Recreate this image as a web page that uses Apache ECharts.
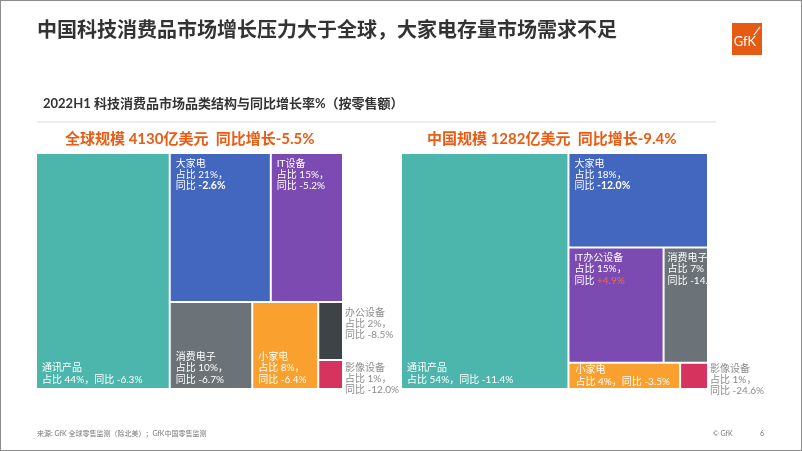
<!DOCTYPE html>
<html>
<head>
<meta charset="utf-8">
<script src="https://cdn.jsdelivr.net/npm/echarts@6/dist/echarts.min.js"></script>
<style>
html,body{margin:0;padding:0;background:#fff;}
#frame{position:absolute;left:0;top:0;width:800px;height:449px;border:1px solid #8c8c8c;}
#main{position:absolute;left:0;top:0;width:802px;height:451px;}
</style>
</head>
<body>
<div id="frame"></div>
<div id="main"></div>
<script>
// ---------- texts ----------
const titleText = '中国科技消费品市场增长压力大于全球，大家电存量市场需求不足';
const subtitleText = '2022H1 科技消费品市场品类结构与同比增长率%（按零售额）';
const globalHeader = '全球规模 4130亿美元  同比增长-5.5%';
const chinaHeader = '中国规模 1282亿美元  同比增长-9.4%';
const sourceText = '来源: GfK 全球零售监测（除北美）；GfK中国零售监测';
const copyrightText = '© GfK';
const pageText = '6';

// ---------- data: global ----------
const globalNames = ['通讯产品', '大家电', 'IT设备', '消费电子', '小家电', '办公设备', '影像设备'];
const globalShare = [44, 21, 15, 10, 8, 2, 1];
const globalYoY = [-6.3, -2.6, -5.2, -6.7, -6.4, -8.5, -12.0];
const globalGroups = [[], ['g', 'top'], ['g', 'top'], ['g', 'bot'], ['g', 'bot'], ['g', 'bot', 's'], ['g', 'bot', 's']];

// ---------- data: China ----------
const chinaNames = ['通讯产品', '大家电', 'IT办公设备', '消费电子', '小家电', '影像设备'];
const chinaShare = [54, 18, 15, 7, 4, 1];
const chinaYoY = [-11.4, -12.0, 4.9, -14.4, -3.5, -24.6];
const chinaGroups = [[], ['g'], ['g', 'mid'], ['g', 'mid'], ['g', 'bot'], ['g', 'bot']];

// ---------- styles ----------
const FONT = "Lato, 'Noto Sans CJK SC', sans-serif";
const ORANGE = '#ea5b14';
const colors = {
  '通讯产品': '#4db6ac', '大家电': '#4366be', 'IT设备': '#7b4bb2', 'IT办公设备': '#7b4bb2',
  '消费电子': '#6b7278', '小家电': '#f9a02f', '办公设备': '#3d4347', '影像设备': '#d7335f'
};
const globalModes = {'通讯产品': 'bottom2', '大家电': 'topBold', 'IT设备': 'top', '消费电子': 'bottom3',
  '小家电': 'bottom3', '办公设备': 'outside', '影像设备': 'outside'};
const chinaModes = {'通讯产品': 'bottom2', '大家电': 'topBold', 'IT办公设备': 'topPositive', '消费电子': 'topClip',
  '小家电': 'bottom2tight', '影像设备': 'outside'};
const globalOutsideDy = {'办公设备': 4, '影像设备': 1};
const chinaOutsideDy = {'影像设备': -1};

function fmtYoY(v) { return (v > 0 ? '+' : '') + v.toFixed(1) + '%'; }

function labelFor(mode, name, share, yoy) {
  const y = fmtYoY(yoy);
  let text, cfg;
  if (mode === 'bottom2' || mode === 'bottom2tight') {
    text = name + '\n占比 ' + share + '%，同比 ' + y;
  } else {
    let yy = y;
    if (mode === 'topBold') yy = '{bold|' + y + '}';
    if (mode === 'topPositive') yy = '{pos|' + y + '}';
    text = name + '\n占比 ' + share + '%，\n同比 ' + yy;
  }
  if (mode.indexOf('bottom') === 0) {
    cfg = {position: 'insideBottomLeft', padding: mode === 'bottom2tight' ? [0, 4, 1, 6] : [4, 4, 3, 5]};
  } else if (mode === 'outside') {
    // negative right/bottom padding widens the text box so nothing is cut
    cfg = {position: 'insideTopLeft', padding: [0, -100, -40, 0], color: '#8c8c8c'};
  } else if (mode === 'topClip') {
    cfg = {position: 'insideTopLeft', padding: [4, -7, 4, 3]};
  } else {
    cfg = {position: 'insideTopLeft', padding: [4, 4, 4, 5]};
  }
  if (mode === 'topBold') cfg.rich = {bold: {fontWeight: 'bold', fontSize: 10.5}};
  if (mode === 'topPositive') cfg.rich = {pos: {color: '#f26b3a'}};
  cfg.formatter = text;
  return cfg;
}

function buildTree(names, shares, yoys, groups, modes) {
  const root = [];
  names.forEach(function (n, i) {
    let level = root;
    let path = '';
    groups[i].forEach(function (g) {
      path += '/' + g;
      let node = level.find(function (c) { return c.id === path; });
      if (!node) { node = {id: path, name: '', children: []}; level.push(node); }
      level = node.children;
    });
    level.push({
      name: n, value: shares[i],
      itemStyle: {color: colors[n]},
      label: labelFor(modes[n], n, shares[i], yoys[i])
    });
  });
  return root;
}

function makeLabelLayout(names, modes, dyMap) {
  return function (params) {
    const txt = params.text || '';
    const name = names.find(function (n) { return txt.indexOf(n + '\n') === 0; });
    const mode = name ? modes[name] : null;
    const r = params.rect;
    if (mode === 'outside') {
      return {x: r.x + r.width + 3, y: r.y + (dyMap[name] || 0), align: 'left', verticalAlign: 'top'};
    }
    return {};
  };
}

function makeSeries(names, shares, yoys, groups, modes, dyMap, left) {
  return {
    type: 'treemap',
    left: left, top: 154, width: 305, height: 234,
    squareRatio: 0.0001,
    sort: false,
    roam: false,
    nodeClick: false,
    visibleMin: 0,
    breadcrumb: {show: false},
    itemStyle: {borderWidth: 0, gapWidth: 2, borderColor: '#fff'},
    upperLabel: {show: false},
    label: {show: true, fontFamily: FONT, fontSize: 10, lineHeight: 11.2, color: '#fff',
      overflow: 'truncate', ellipsis: '', distance: 0},
    emphasis: {disabled: true},
    labelLayout: makeLabelLayout(names, modes, dyMap),
    data: buildTree(names, shares, yoys, groups, modes)
  };
}

const chart = echarts.init(document.getElementById('main'));
const option = {
  animation: false,
  backgroundColor: 'transparent',
  title: [
    {text: titleText, left: 37, top: 21, padding: 0,
      textStyle: {fontSize: 20, fontWeight: 'bold', color: '#333', fontFamily: FONT}},
    {text: subtitleText, left: 43, top: 97, padding: 0,
      textStyle: {fontSize: 13, fontWeight: 'bold', color: '#333', fontFamily: FONT}},
    {text: globalHeader, left: 65, top: 132, padding: 0,
      textStyle: {fontSize: 15, fontWeight: 'bold', color: ORANGE, fontFamily: FONT}},
    {text: chinaHeader, left: 427, top: 132, padding: 0,
      textStyle: {fontSize: 15, fontWeight: 'bold', color: ORANGE, fontFamily: FONT}}
  ],
  graphic: [
    {type: 'line', shape: {x1: 37, y1: 122, x2: 716, y2: 122}, style: {stroke: '#dcdcdc', lineWidth: 1}},
    {type: 'rect', shape: {x: 732, y: 23, width: 30, height: 32}, style: {fill: '#e55b13'}},
    {type: 'text', x: 745, y: 42, style: {text: 'GfK', fill: '#fff', fontSize: 13, fontFamily: FONT,
      align: 'center', verticalAlign: 'middle'}},
    {type: 'line', shape: {x1: 754, y1: 35, x2: 760, y2: 27}, style: {stroke: '#fff', lineWidth: 1.2}},
    {type: 'text', x: 37, y: 434, style: {text: sourceText, fill: '#777', fontSize: 7, fontFamily: FONT,
      align: 'left', verticalAlign: 'middle'}},
    {type: 'text', x: 713, y: 434, style: {text: copyrightText, fill: '#777', fontSize: 7, fontFamily: FONT,
      align: 'left', verticalAlign: 'middle'}},
    {type: 'text', x: 762, y: 434, style: {text: pageText, fill: '#777', fontSize: 7, fontFamily: FONT,
      align: 'center', verticalAlign: 'middle'}}
  ],
  series: [
    makeSeries(globalNames, globalShare, globalYoY, globalGroups, globalModes, globalOutsideDy, 37),
    makeSeries(chinaNames, chinaShare, chinaYoY, chinaGroups, chinaModes, chinaOutsideDy, 402)
  ]
};
chart.setOption(option);
</script>
</body>
</html>
